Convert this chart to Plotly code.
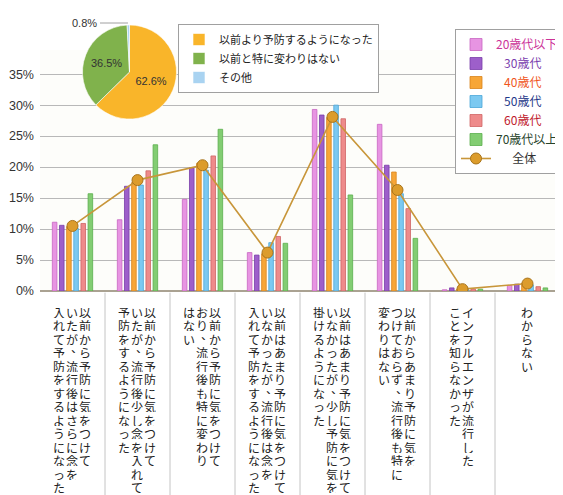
import plotly.graph_objects as go

# ---------------- data ----------------
x_labels = [
    "以前から予防に気をつけて\nいたが、流行後はさらに念を\n入れて予防をするようになった",
    "以前から予防に気をつけて\nいたが、流行後少し念を入れて\n予防をするようになった",
    "以前から予防に気をつけて\nおり、流行後も特に変わり\nはない",
    "以前はあまり予防に気をつけて\nいなかったが、流行後は念を\n入れて予防をするようになった",
    "以前はあまり予防に気をつけて\nいなかったが、少し予防に気を\n掛けるようになった",
    "以前からあまり予防に気を\nつけておらず、流行後も特に\n変わりはない",
    "インフルエンザが流行した\nことを知らなかった",
    "わからない",
]
categories = [s.replace("\n", "") for s in x_labels]

age_names = ["20歳代以下", "30歳代", "40歳代", "50歳代", "60歳代", "70歳代以上"]
age_values = [
    [11.1, 11.5, 14.8, 6.2, 29.3, 26.9, 0.2, 0.9],   # 20歳代以下
    [10.6, 16.9, 19.9, 5.8, 28.4, 20.3, 0.5, 1.1],   # 30歳代
    [10.4, 17.5, 20.6, 6.0, 28.0, 19.2, 0.3, 1.3],   # 40歳代
    [10.1, 17.1, 19.5, 7.8, 30.0, 15.7, 0.4, 1.0],   # 50歳代
    [10.9, 19.4, 21.8, 8.8, 27.8, 13.3, 0.3, 0.7],   # 60歳代
    [15.7, 23.6, 26.1, 7.7, 15.5, 8.5, 0.3, 0.5],    # 70歳代以上
]
overall_name = "全体"
overall_values = [10.5, 17.9, 20.3, 6.2, 28.1, 16.3, 0.3, 1.2]

pie_labels = ["以前より予防するようになった", "以前と特に変わりはない", "その他"]
pie_values = [62.6, 36.5, 0.8]

y_ticks = [0, 5, 10, 15, 20, 25, 30, 35]
y_ticktext = [f"{v}%" for v in y_ticks]

# ---------------- styles ----------------
bar_colors = ["#e794e2", "#9d5fca", "#f7a637", "#7cc9f1", "#ee8b8b", "#82cd72"]
bar_edges = ["#c866c2", "#7a3ea8", "#d9841a", "#4aa6d8", "#cf6464", "#5aae4c"]
name_colors = ["#cc3399", "#7b3fae", "#f0561c", "#1f3a8a", "#c0192c", "#27432a"]
name_pads = [0, 3, 3, 3, 3, 0]
overall_pad = 6
pie_colors = ["#f9b52a", "#80b24c", "#a9d3f1"]
FONT = "Liberation Sans, Noto Sans CJK JP, sans-serif"
JFONT = "Noto Sans CJK JP, sans-serif"
NB = "\u00a0"

OFF = 8  # page body margin in the browser

fig = go.Figure()

for name, vals, c, e, nc, p in zip(age_names, age_values, bar_colors, bar_edges,
                                   name_colors, name_pads):
    fig.add_trace(go.Bar(
        x=categories, y=vals,
        name=f'{NB * p}<span style="color:{nc}">{name}</span>',
        marker=dict(color=c, line=dict(color=e, width=0.8)),
        legend="legend",
    ))

fig.add_trace(go.Scatter(
    x=categories, y=overall_values, name=NB * overall_pad + overall_name,
    mode="lines+markers",
    line=dict(color="#c8963a", width=1.6),
    marker=dict(size=11, color="#dc9c2c", line=dict(color="#a8741c", width=1)),
    legend="legend",
))

fig.add_trace(go.Pie(
    labels=pie_labels, values=pie_values,
    sort=False, direction="clockwise", rotation=0,
    marker=dict(colors=pie_colors, line=dict(color="#ffffff", width=0.6)),
    texttemplate="%{value}%",
    textposition=["inside", "inside", "none"],
    insidetextorientation="horizontal",
    textfont=dict(size=11, color="#333333", family=FONT),
    domain=dict(x=[0.0817, 0.2625], y=[0.612, 0.9466]),
    legend="legend2",
    hoverinfo="label+value",
))

annotations = []
# vertical (tategaki) category labels
for i, label in enumerate(x_labels):
    cols = label.split("\n")
    n = len(cols)
    for k, col in enumerate(cols):
        xs = ((n - 1) / 2 - k) * 13 - 1
        for j, ch in enumerate(col):
            dx, dy = (5, 5) if ch == "、" else (0, 0)
            annotations.append(dict(
                x=i, y=0, xref="x", yref="paper", text=ch, showarrow=False,
                xshift=xs + dx, yshift=-(20.5 + j * 13.5) + dy,
                xanchor="center", yanchor="middle",
                width=12, height=12, borderpad=0,
                font=dict(size=12, color="#222222", family=JFONT),
            ))

# outside label of the small pie slice
annotations.append(dict(
    x=0.0865, y=0.9537, xref="paper", yref="paper",
    text=f"{pie_values[2]}%", showarrow=False,
    xanchor="center", yanchor="middle",
    font=dict(size=11, color="#333333", family=FONT),
))

shapes = []
for i in range(len(categories) - 1):
    shapes.append(dict(type="line", xref="x", yref="paper",
                       x0=i + 0.5, x1=i + 0.5, y0=-0.006, y1=-0.76,
                       line=dict(color="#c4c4c4", width=1)))
shapes.append(dict(type="line", xref="paper", yref="paper",
                   x0=0.1154, x1=0.1692, y0=0.9537, y1=0.9537,
                   line=dict(color="#a0a0a0", width=1)))

W, H = 563, 495
fig.update_layout(
    width=W, height=H,
    margin=dict(l=40 - OFF, r=W - (560 - OFF), t=10 - OFF, b=H - (291 - OFF),
                autoexpand=False),
    paper_bgcolor="white", plot_bgcolor="#fdfdfa",
    barmode="group", bargap=0.34, bargroupgap=0.36,
    font=dict(family=FONT, size=12, color="#333333"),
    xaxis=dict(showticklabels=False, showgrid=False, ticks="",
               range=[-0.5, len(categories) - 0.5], fixedrange=True),
    yaxis=dict(domain=[0, 0.8577], range=[0, 38.9], tickmode="array",
               tickvals=y_ticks, ticktext=y_ticktext,
               showgrid=True, gridcolor="#b8b8b8", gridwidth=1.2,
               zeroline=True, zerolinecolor="#aaa292", zerolinewidth=2,
               tickfont=dict(size=12.5, color="#333333", family=FONT),
               ticks="", ticklabelstandoff=5, fixedrange=True),
    legend=dict(xref="container", yref="container",
                x=(455 - OFF) / W, y=1 - (29 - OFF) / H,
                xanchor="left", yanchor="top", bgcolor="white",
                bordercolor="#a0a0a0", borderwidth=1,
                font=dict(size=12, family=JFONT), itemwidth=30,
                tracegroupgap=0),
    legend2=dict(xref="container", yref="container",
                 x=(178 - OFF) / W, y=1 - (24 - OFF) / H,
                 xanchor="left", yanchor="top", bgcolor="white",
                 bordercolor="#a0a0a0", borderwidth=1,
                 font=dict(size=11, color="#222222", family=JFONT), itemwidth=30),
    annotations=annotations,
    shapes=shapes,
    showlegend=True,
)

fig.write_html("out.html")
